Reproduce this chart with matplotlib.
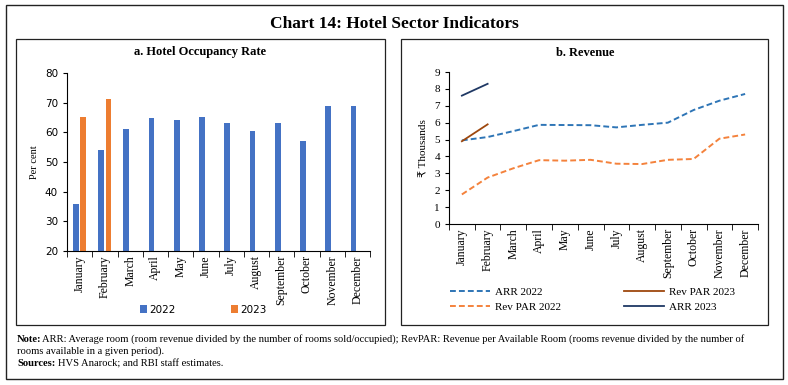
import numpy as np
import matplotlib.pyplot as plt
from matplotlib.patches import Rectangle

months = ['January', 'February', 'March', 'April', 'May', 'June', 'July',
          'August', 'September', 'October', 'November', 'December']
occ_2022 = [35.8, 53.9, 61.0, 64.7, 64.0, 65.2, 63.0, 60.6, 63.2, 57.2, 69.0, 69.0]
occ_2023 = [65.0, 71.3]
arr_2022 = [4.95, 5.15, 5.5, 5.87, 5.86, 5.85, 5.72, 5.87, 6.0, 6.75, 7.3, 7.7]
revpar_2022 = [1.75, 2.75, 3.3, 3.78, 3.75, 3.8, 3.57, 3.55, 3.8, 3.85, 5.05, 5.3]
revpar_2023 = [4.9, 5.9]
arr_2023 = [7.6, 8.3]

serif = ['Liberation Serif', 'DejaVu Sans']
blue = '#4472C4'
orange = '#ED7D31'

W, H = 788, 385
fig = plt.figure(figsize=(W / 100, H / 100), dpi=100)

def box(x0, y0, x1, y1, lw=1.0):
    fig.patches.append(Rectangle((x0 / W, 1 - y1 / H), (x1 - x0) / W, (y1 - y0) / H,
                                 transform=fig.transFigure, fill=False,
                                 edgecolor='#222222', linewidth=lw))

box(6, 5, 783, 379)
box(16, 39, 385, 325, 0.9)
box(401, 39, 768, 325, 0.9)

fig.text(394 / W, 1 - 24 / H, 'Chart 14: Hotel Sector Indicators', ha='center', va='center',
         fontsize=12.5, fontweight='bold', family=serif)

# left panel: occupancy
ax1 = fig.add_axes([67 / W, 1 - 251 / H, (370 - 67) / W, (251 - 73) / H])
x = np.arange(len(months))
ax1.bar(x - 0.15, occ_2022, width=0.23, color=blue, label='2022')
ax1.bar(x[:len(occ_2023)] + 0.14, occ_2023, width=0.23, color=orange, label='2023')
ax1.set_ylim(20, 80)
ax1.set_xlim(-0.5, 11.5)
ax1.set_yticks(range(20, 81, 10))
ax1.set_xticks(x)
ax1.set_xticklabels(months, rotation=90, family=serif, fontsize=8.5)
ax1.set_xticks(np.arange(-0.5, 12, 1), minor=True)
ax1.tick_params(axis='x', which='major', length=0, pad=3)
ax1.tick_params(axis='x', which='minor', length=4, direction='out')
ax1.tick_params(axis='y', labelsize=7.5, length=3)
ax1.set_ylabel('Per cent', family=serif, fontsize=7.5)
for s in ['top', 'right']:
    ax1.spines[s].set_visible(False)
ax1.legend(loc='center left', bbox_to_anchor=(0.21, -0.33), ncol=2, frameon=False,
           fontsize=7.5, handlelength=0.7, handleheight=0.7, columnspacing=5.3, handletextpad=0.2)
fig.text(200 / W, 1 - 52 / H, 'a. Hotel Occupancy Rate', ha='center', va='center',
         fontsize=9, fontweight='bold', family=serif)

# right panel: revenue
ax2 = fig.add_axes([449 / W, 1 - 224 / H, (758 - 449) / W, (224 - 72) / H])
ax2.plot(x, arr_2022, color='#2E75B6', linestyle=(0, (3, 1.6)), linewidth=1.4, label='ARR 2022')
ax2.plot(x, revpar_2022, color='#F4823C', linestyle=(0, (3, 1.6)), linewidth=1.4, label='Rev PAR 2022')
ax2.plot(x[:2], revpar_2023, color='#9E480E', linewidth=1.3, label='Rev PAR 2023')
ax2.plot(x[:2], arr_2023, color='#1F3864', linewidth=1.3, label='ARR 2023')
ax2.set_ylim(0, 9)
ax2.set_xlim(-0.5, 11.5)
ax2.set_yticks(range(0, 10))
ax2.set_xticks(x)
ax2.set_xticklabels(months, rotation=90, family=serif, fontsize=8.5)
ax2.set_xticks(np.arange(-0.5, 12, 1), minor=True)
ax2.tick_params(axis='x', which='major', length=0, pad=3)
ax2.tick_params(axis='x', which='minor', length=4, direction='out')
ax2.tick_params(axis='y', labelsize=8, length=3)
for lbl in ax2.get_yticklabels():
    lbl.set_family(serif)
ax2.set_ylabel('₹ Thousands', family=serif, fontsize=8)
for s in ['top', 'right']:
    ax2.spines[s].set_visible(False)
h, l = ax2.get_legend_handles_labels()
ax2.legend(h, l, loc='upper left', bbox_to_anchor=(-0.03, -0.35), ncol=2, frameon=False,
           handlelength=3.6, columnspacing=5.6, handletextpad=0.5, labelspacing=0.45,
           prop={'family': serif, 'size': 8})
fig.text(585 / W, 1 - 53 / H, 'b. Revenue', ha='center', va='center',
         fontsize=9, fontweight='bold', family=serif)

# notes
fs = 7.6
fig.text(17 / W, 1 - 339 / H, 'Note:', fontsize=fs, family=serif, fontweight='bold', va='center')
fig.text(42 / W, 1 - 339 / H,
         'ARR: Average room (room revenue divided by the number of rooms sold/occupied); '
         'RevPAR: Revenue per Available Room (rooms revenue divided by the number of',
         fontsize=fs, family=serif, va='center')
fig.text(17 / W, 1 - 351 / H, 'rooms available in a given period).', fontsize=fs, family=serif, va='center')
fig.text(17 / W, 1 - 364 / H, 'Sources:', fontsize=fs, family=serif, fontweight='bold', va='center')
fig.text(58 / W, 1 - 364 / H, 'HVS Anarock; and RBI staff estimates.', fontsize=fs, family=serif, va='center')

fig.savefig('out.png', dpi=100)
